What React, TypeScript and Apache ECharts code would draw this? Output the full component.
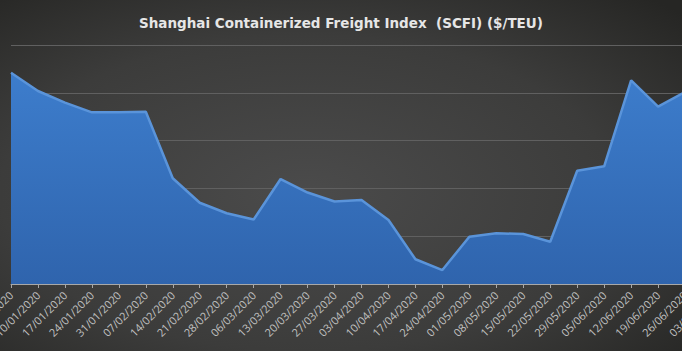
import React, { useEffect, useRef } from "react";
import * as echarts from "echarts";

const categories = [
  "03/01/2020", "10/01/2020", "17/01/2020", "24/01/2020", "31/01/2020", "07/02/2020",
  "14/02/2020", "21/02/2020", "28/02/2020", "06/03/2020", "13/03/2020", "20/03/2020",
  "27/03/2020", "03/04/2020", "10/04/2020", "17/04/2020", "24/04/2020", "01/05/2020",
  "08/05/2020", "15/05/2020", "22/05/2020", "29/05/2020", "05/06/2020", "12/06/2020",
  "19/06/2020", "26/06/2020", "03/07/2020",
];

const scfiValues = [
  1021.0, 1001.9, 989.7, 979.6, 979.6, 980.2,
  910.6, 885.0, 874.0, 867.5, 909.8, 895.7,
  886.3, 887.9, 866.9, 825.9, 814.6, 849.5,
  853.0, 852.3, 844.2, 918.5, 923.1, 1013.1,
  985.5, 1000.8, 1020.0,
];

const titleText = "Shanghai Containerized Freight Index  (SCFI) ($/TEU)";

export default function App() {
  const ref = useRef<HTMLDivElement>(null);

  useEffect(() => {
    if (!ref.current) return;
    const chart = echarts.init(ref.current, undefined, { renderer: "svg" });
    chart.setOption({
      animation: false,
      backgroundColor: {
        type: "radial",
        x: 0.45,
        y: 0.55,
        r: 0.75,
        colorStops: [
          { offset: 0, color: "#4b4b4b" },
          { offset: 0.6, color: "#3c3c3b" },
          { offset: 1, color: "#262624" },
        ],
      },
      title: {
        text: titleText,
        left: "center",
        top: 11,
        textStyle: {
          color: "#e6e6e6",
          fontSize: 13.5,
          fontWeight: "bold",
          fontFamily: "DejaVu Sans",
        },
      },
      grid: {
        left: 11,
        right: -30,
        top: 45,
        bottom: 67,
        containLabel: false,
        outerBoundsMode: "none",
      },
      xAxis: {
        type: "category",
        data: categories,
        boundaryGap: false,
        axisLine: { show: true, lineStyle: { color: "#a8a8a8", width: 1 } },
        axisTick: { show: true, length: 4, lineStyle: { color: "#a8a8a8" } },
        axisLabel: {
          rotate: 45,
          interval: 0,
          margin: 9,
          color: "#c2c2c2",
          fontSize: 11,
          fontFamily: "Open Sans",
        },
        splitLine: { show: false },
      },
      yAxis: {
        type: "value",
        min: 800,
        max: 1050,
        interval: 50,
        axisLabel: { show: false },
        axisLine: { show: false },
        axisTick: { show: false },
        splitLine: { show: true, lineStyle: { color: "#606060", width: 1 } },
      },
      series: [
        {
          type: "line",
          data: scfiValues,
          showSymbol: false,
          symbol: "none",
          lineStyle: { color: "#5a94da", width: 2.5 },
          areaStyle: {
            opacity: 1,
            color: {
              type: "linear",
              x: 0,
              y: 0,
              x2: 0,
              y2: 1,
              colorStops: [
                { offset: 0, color: "#3d7dcc" },
                { offset: 1, color: "#2f64ad" },
              ],
            },
          },
        },
      ],
    });
    return () => chart.dispose();
  }, []);

  return (
    <div
      ref={ref}
      style={{ position: "absolute", left: 0, top: 0, width: 682, height: 351 }}
    />
  );
}
